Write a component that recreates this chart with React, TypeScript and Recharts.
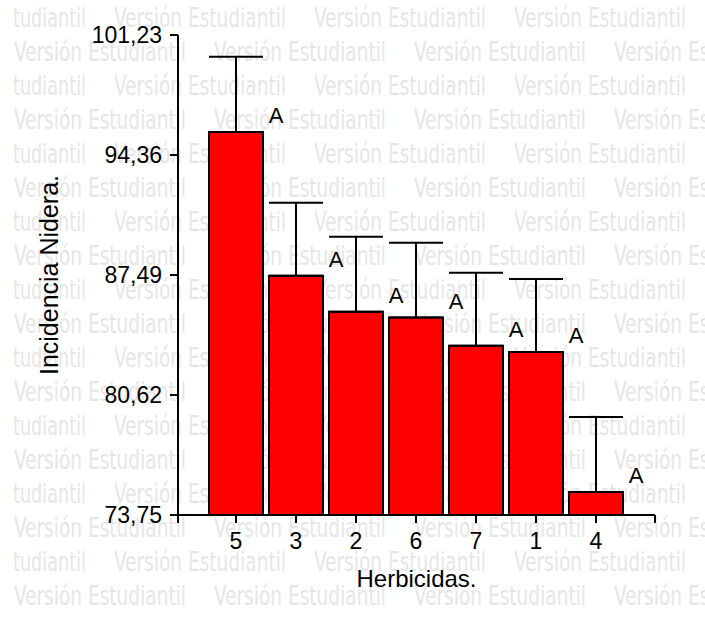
import {
    BarChart,
    Bar,
    XAxis,
    YAxis,
    ErrorBar,
    LabelList
} from "recharts";

// tratamientos, ordenados como en la figura
const herbicidas = ["5", "3", "2", "6", "7", "1", "4"];

const incidencia = [95.68, 87.45, 85.39, 85.05, 83.44, 83.08, 75.07];

const errorSup = [4.31, 4.18, 4.29, 4.29, 4.18, 4.18, 4.29];

const letras = ["A", "A", "A", "A", "A", "A", "A"];

const yTicks = [73.75, 80.62, 87.49, 94.36, 101.23];

const marca = "Versión Estudiantil";
const marcaCola = "tudiantil";

const data = herbicidas.map((h, i) => ({
    trat: h,
    valor: incidencia[i],
    err: [0, errorSup[i]],
    letra: letras[i]
}));

const FONT = "'Liberation Sans', Arial, sans-serif";
const WM_FONT = "'DejaVu Sans Condensed', 'Liberation Sans Narrow', 'Liberation Sans', sans-serif";

function Watermark() {
    const rows = [];
    for (let r = 0; r < 18; r++) {
        const y = 27 + r * 34;
        const par = r % 2 === 0;
        if (par) {
            rows.push(
                <text
                    key={r + "-c"}
                    x={13}
                    y={y}
                    fontSize={27}
                    fill="#e6e6e6"
                    textLength={73}
                    lengthAdjust="spacingAndGlyphs"
                    fontFamily={WM_FONT}
                >
                    {marcaCola}
                </text>
            );
        }
        const off = par ? 114 : 14;
        for (let k = 0; k < 4; k++) {
            rows.push(
                <text
                    key={r + "-" + k}
                    x={off + k * 200}
                    y={y}
                    fontSize={27}
                    fill="#e6e6e6"
                    textLength={172}
                    lengthAdjust="spacingAndGlyphs"
                    fontFamily={WM_FONT}
                >
                    {marca}
                </text>
            );
        }
    }
    return (
        <svg
            width={705}
            height={617}
            style={{ position: "absolute", left: 0, top: 0 }}
        >
            <defs>
                <marker
                    id="tickAbajo"
                    markerUnits="userSpaceOnUse"
                    markerWidth={4}
                    markerHeight={10}
                    refX={2}
                    refY={0}
                    viewBox="0 0 4 10"
                    overflow="visible"
                >
                    <line x1={2} y1={0} x2={2} y2={8} stroke="#000" strokeWidth={2} />
                </marker>
            </defs>
            {rows}
        </svg>
    );
}

const fmt = (v: number) => v.toFixed(2).replace(".", ",");

export default function App() {
    return (
        <div
            style={{
                position: "absolute",
                left: 0,
                top: 0,
                width: 705,
                height: 617,
                background: "#fff",
                fontFamily: FONT
            }}
        >
            <Watermark />

            <div style={{ position: "absolute", left: 0, top: 0 }}>
                <BarChart
                    width={705}
                    height={617}
                    data={data}
                    barSize={54}
                    margin={{ top: 35, right: 50, bottom: 0, left: 0 }}
                >
                    <XAxis
                        dataKey="trat"
                        height={102}
                        padding={{ left: 28, right: 29 }}
                        tickSize={8}
                        tickMargin={10}
                        tick={{ fill: "#000", fontSize: 23, fontFamily: FONT }}
                        tickLine={{ stroke: "#000", strokeWidth: 2 }}
                        axisLine={{
                            stroke: "#000",
                            strokeWidth: 2,
                            markerStart: "url(#tickAbajo)",
                            markerEnd: "url(#tickAbajo)",
                            style: {
                                markerStart: "url(#tickAbajo)",
                                markerEnd: "url(#tickAbajo)"
                            }
                        }}
                        label={(p: any) => {
                            const vb = p.viewBox;
                            return (
                                <text
                                    x={vb.x + vb.width / 2}
                                    y={vb.y + 72}
                                    textAnchor="middle"
                                    fontSize={24}
                                    fill="#000"
                                    fontFamily={FONT}
                                >
                                    Herbicidas.
                                </text>
                            );
                        }}
                    />

                    <YAxis
                        width={178}
                        domain={[73.75, 101.23]}
                        ticks={yTicks}
                        allowDataOverflow
                        tickFormatter={fmt}
                        tickSize={8}
                        tickMargin={8}
                        tick={{ fill: "#000", fontSize: 23, fontFamily: FONT }}
                        tickLine={{ stroke: "#000", strokeWidth: 2 }}
                        axisLine={{ stroke: "#000", strokeWidth: 2 }}
                        label={(p: any) => {
                            const vb = p.viewBox;
                            const cy = vb.y + vb.height / 2;
                            return (
                                <text
                                    x={49}
                                    y={cy}
                                    transform={`rotate(-90, 49, ${cy})`}
                                    textAnchor="middle"
                                    dominantBaseline="central"
                                    fontSize={25}
                                    fill="#000"
                                    fontFamily={FONT}
                                >
                                    Incidencia Nidera.
                                </text>
                            );
                        }}
                    />

                    <Bar
                        dataKey="valor"
                        fill="#ff0000"
                        stroke="#000"
                        strokeWidth={2}
                        isAnimationActive={false}
                    >
                        <ErrorBar
                            dataKey="err"
                            width={27}
                            stroke="#000"
                            strokeWidth={2}
                            isAnimationActive={false}
                        />
                        <LabelList
                            dataKey="letra"
                            content={(p: any) => (
                                <text
                                    x={p.x + p.width + 13}
                                    y={p.y - 9}
                                    textAnchor="middle"
                                    fontSize={22}
                                    fill="#000"
                                    fontFamily={FONT}
                                >
                                    {p.value}
                                </text>
                            )}
                        />
                    </Bar>
                </BarChart>
            </div>
        </div>
    );
}
